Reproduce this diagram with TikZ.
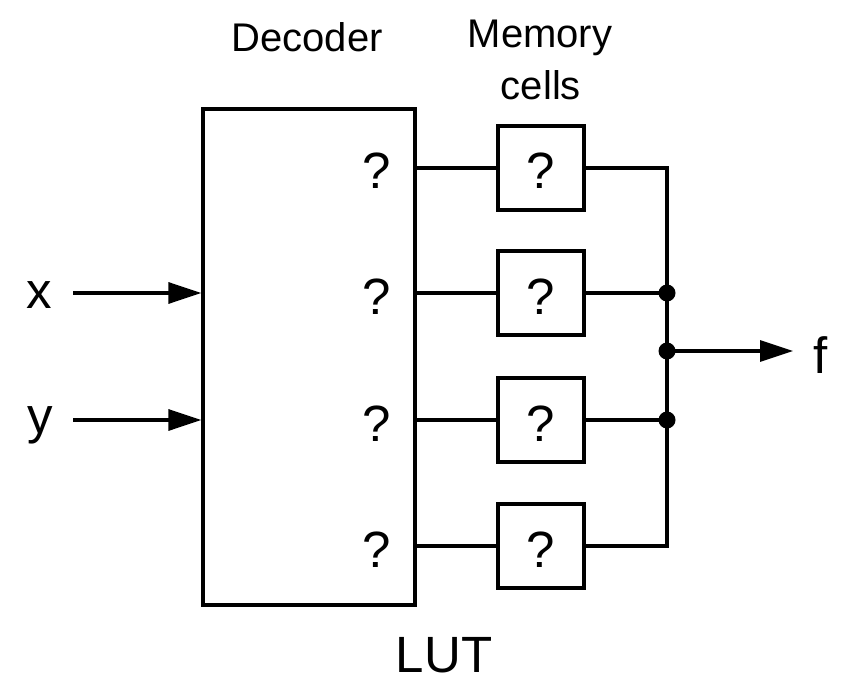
\documentclass[tikz,border=0pt]{standalone}
\usepackage{fontspec}
\setmainfont{Liberation Sans}
\usetikzlibrary{arrows.meta}
\begin{document}
\begin{tikzpicture}[x=1pt,y=-1pt,
  wire/.style={line width=3.3pt,line join=miter},
  arr/.style={wire,-{Triangle[length=33pt,width=21pt]}},
  box/.style={draw,line width=3.3pt,inner sep=0pt},
  big/.style={inner sep=0pt,font=\fontsize{51}{60}\selectfont},
  head/.style={inner sep=0pt,font=\fontsize{40}{48}\selectfont},
  dot/.style={circle,fill=black,inner sep=0pt,minimum size=17pt}]
\useasboundingbox (0,0) rectangle (850,692);
% decoder
\node[box,minimum width=212pt,minimum height=496pt] (dec) at (309,357) {};
% headings
\node[head,anchor=base] (hdec) at (307,52) {Decoder};
\node[head,anchor=base] (hmem1) at (540,48) {Memory};
\node[head,anchor=base] (hmem2) at (541,100) {cells};
\node[big,anchor=base] (lut) at (444,672) {LUT};
% decoder outputs
\foreach \i/\y in {1/168,2/293,3/420,4/546}{
  \node[big,anchor=base] (q\i) at (377,\y+21) {?};
  \node[box,minimum width=86pt,minimum height=84pt] (m\i) at (541,\y) {};
  \node[big,anchor=base] (mq\i) at (541,\y+21) {?};
  \coordinate (b\i) at (667,\y);
  \draw[wire] (dec.east |- m\i) -- (m\i.west);
}
% bus
\draw[wire] (m1.east) -- (b1) -- (b4) -- (m4.east);
\draw[wire] (m2.east) -- (b2);
\draw[wire] (m3.east) -- (b3);
\coordinate (bf) at (667,351);
\node[dot] (d2) at (b2) {};
\node[dot] (d3) at (b3) {};
\node[dot] (df) at (bf) {};
% output
\node[big,anchor=base] (fl) at (821,373) {f};
\coordinate (fend) at (793,351);
\draw[arr] (df.center) -- (fend);
% inputs
\node[big,anchor=base] (xl) at (39,308) {x};
\node[big,anchor=base] (yl) at (40,433) {y};
\coordinate (xs) at (73,293);
\coordinate (ys) at (73,420);
\draw[arr] (xs) -- (xs -| dec.west);
\draw[arr] (ys) -- (ys -| dec.west);
\end{tikzpicture}
\end{document}
